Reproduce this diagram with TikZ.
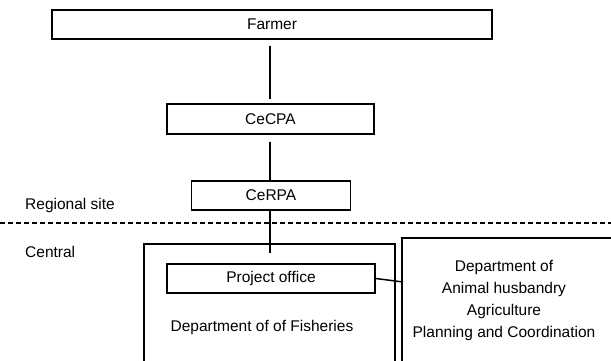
\documentclass[tikz,border=0pt]{standalone}
\usepackage{fontspec}
\setmainfont{Liberation Sans}
\begin{document}
\begin{tikzpicture}[x=1pt,y=-1pt,
  every node/.style={font=\fontsize{15.5}{22}\selectfont, inner sep=0pt},
  box/.style={draw, line width=1.6pt},
  frame/.style={draw, line width=1.6pt, anchor=north west},
  conn/.style={line width=1.5pt},
  plain/.style={anchor=west}]
\useasboundingbox (0,0) rectangle (611,361);
\clip (0,0) rectangle (611,361);
\node[box, line width=2pt, minimum width=440pt, minimum height=29pt] (farmer) at (272,24.5) {Farmer};
\node[box, minimum width=207pt, minimum height=30pt] (cecpa) at (270.5,119) {CeCPA};
\node[box, minimum width=159pt, minimum height=29pt] (cerpa) at (271,195.5) {CeRPA};
\node[frame, minimum width=251pt, minimum height=140pt] (fish) at (143,243) {};
\node[frame, minimum width=230pt, minimum height=140pt] (other) at (401,237) {};
\node[box, minimum width=208pt, minimum height=29pt] (project) at (271,278.5) {Project office};
\node (fishtxt) at (262,327) {Department of of Fisheries};
\node[align=center] (othertxt) at (504,300) {Department of\\Animal husbandry\\Agriculture\\Planning and Coordination};
\node[plain] (regional) at (25,205) {Regional site};
\node[plain] (central) at (25,252) {Central};
\coordinate (dl) at (0,223);
\coordinate (dr) at (611,223);
\coordinate (oj) at (403,282);
\draw[line width=1.2pt, dash pattern=on 5pt off 3pt] (dl) -- (dr);
\draw[conn, shorten <=6pt, shorten >=4pt] (farmer.south -| 270,0) -- (cecpa.north -| 270,0);
\draw[conn, shorten <=7pt] (cecpa.south -| 270,0) -- (cerpa.north -| 270,0);
\draw[conn, shorten >=10pt] (cerpa.south -| 270,0) -- (project.north -| 270,0);
\draw[conn] (project.east) -- (oj);
\end{tikzpicture}
\end{document}
